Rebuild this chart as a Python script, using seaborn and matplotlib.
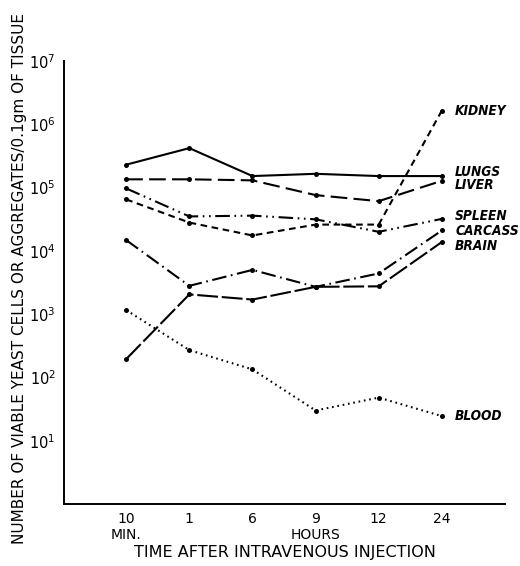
import matplotlib
matplotlib.use("Agg")
import matplotlib.pyplot as plt
import seaborn as sns
import pandas as pd
import numpy as np

# Sampling times after intravenous injection
times = ["10", "1", "6", "9", "12", "24"]
time_units = ["MIN.", "", "", "HOURS", "", ""]

# Viable yeast cells or aggregates per 0.1 gm of tissue
kidney = [6.5e4, 2.8e4, 1.75e4, 2.6e4, 2.6e4, 1.65e6]
lungs = [2.3e5, 4.2e5, 1.52e5, 1.65e5, 1.52e5, 1.52e5]
liver = [1.35e5, 1.35e5, 1.3e5, 7.6e4, 6.1e4, 1.28e5]
spleen = [9.7e4, 3.5e4, 3.6e4, 3.15e4, 2.0e4, 3.2e4]
carcass = [1.48e4, 2.8e3, 5.0e3, 2.7e3, 4.4e3, 2.1e4]
brain = [1.95e2, 2.05e3, 1.7e3, 2.7e3, 2.75e3, 1.38e4]
blood = [1.16e3, 2.7e2, 1.34e2, 30.0, 48.0, 24.5]

organs = ["KIDNEY", "LUNGS", "LIVER", "SPLEEN", "CARCASS", "BRAIN", "BLOOD"]
series = [kidney, lungs, liver, spleen, carcass, brain, blood]

rows = []
for name, vals in zip(organs, series):
    for i, v in enumerate(vals):
        rows.append({"organ": name, "t": i, "count": v})
df = pd.DataFrame(rows)

sns.set_style("white")
plt.rcParams["font.family"] = ["DejaVu Sans"]
for key in ["text.color", "axes.labelcolor", "xtick.color", "ytick.color"]:
    plt.rcParams[key] = "black"

dashes = {
    "KIDNEY": (3.2, 2.2),
    "LUNGS": "",
    "LIVER": (8, 3),
    "SPLEEN": (7, 2.2, 0.8, 2.2, 0.8, 2.2),
    "CARCASS": (7, 2.2, 0.8, 2.2),
    "BRAIN": (10, 1.8),
    "BLOOD": (0.8, 1.8),
}

fig = plt.figure(figsize=(5.2, 5.66), dpi=100)
ax = fig.add_axes([64 / 520, 1 - 504 / 566, (505 - 64) / 520, (504 - 61) / 566])

sns.lineplot(
    data=df, x="t", y="count", hue="organ", style="organ",
    palette={o: "black" for o in organs}, dashes=dashes,
    markers={o: "o" for o in organs}, markersize=3.6, markeredgewidth=0,
    linewidth=1.5, legend=False, ax=ax, sort=False,
)

ax.set_yscale("log")
ax.set_ylim(1, 1e7)
ax.set_xlim(-0.985, 6.0)

# Organ names placed beside the final measurement
label_y = {"KIDNEY": 1.6e6, "LUNGS": 1.75e5, "LIVER": 1.1e5, "SPLEEN": 3.6e4,
           "CARCASS": 2.05e4, "BRAIN": 1.2e4, "BLOOD": 24.5}
for name in organs:
    ax.text(5.21, label_y[name], name, fontsize=9.8, style="italic",
            fontweight="bold", fontstretch="condensed", va="center", ha="left")

ax.set_yticks([10 ** k for k in range(1, 8)])
ax.set_yticklabels([f"$10^{{{k}}}$" for k in range(1, 8)], fontsize=10.5)
ax.yaxis.set_minor_locator(matplotlib.ticker.NullLocator())

ax.set_xticks(range(len(times)))
ax.set_xticklabels([f"{t}\n{u}" if u else t for t, u in zip(times, time_units)],
                   fontsize=10, linespacing=1.15)

ax.tick_params(axis="both", direction="in", length=9, width=1.2)
ax.tick_params(axis="y", pad=6)
ax.tick_params(axis="x", pad=6)

for s in ["top", "right"]:
    ax.spines[s].set_visible(False)
for s in ["left", "bottom"]:
    ax.spines[s].set_color("black")
    ax.spines[s].set_linewidth(1.4)

ax.set_xlabel("TIME AFTER INTRAVENOUS INJECTION", fontsize=11.5, labelpad=2)
ax.set_ylabel("NUMBER OF VIABLE YEAST CELLS OR AGGREGATES/0.1gm OF TISSUE",
              fontsize=11)
ax.yaxis.set_label_coords(-0.085, 0.51)

fig.savefig("out.png", dpi=100, facecolor="white")
